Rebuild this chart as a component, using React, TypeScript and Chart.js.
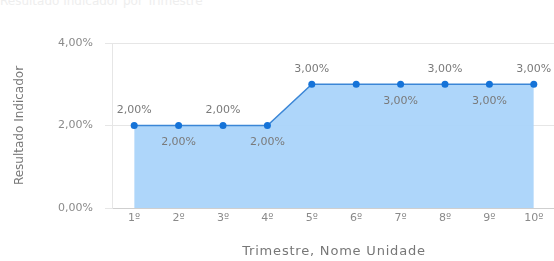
import React, { useEffect, useRef } from 'react';
import { Chart, registerables } from 'chart.js';

Chart.register(...registerables);

const categories = ['1º', '2º', '3º', '4º', '5º', '6º', '7º', '8º', '9º', '10º'];
const values = [2, 2, 2, 2, 3, 3, 3, 3, 3, 3];
const labelPlacement = ['above', 'below', 'above', 'below', 'above', 'none', 'below', 'above', 'below', 'above'];
const yMin = 0;
const yMax = 4;
const yStep = 2;
const xTitle = 'Trimestre, Nome Unidade';
const yTitle = 'Resultado Indicador';
const chartTitle = 'Resultado Indicador por Trimestre';

const fmt = (v: number) => v.toFixed(2).replace('.', ',') + '%';
const FONT = 'DejaVu Sans';

const labelPlugin = {
  id: 'pointLabels',
  afterDatasetsDraw(chart: any) {
    const ctx = chart.ctx;
    const meta = chart.getDatasetMeta(0);
    ctx.save();
    ctx.font = `11px "${FONT}"`;
    ctx.fillStyle = '#7a7a7a';
    ctx.textAlign = 'center';
    ctx.textBaseline = 'middle';
    meta.data.forEach((pt: any, i: number) => {
      const place = labelPlacement[i];
      if (place === 'none') return;
      const dy = place === 'above' ? -15 : 17;
      ctx.fillText(fmt(values[i]), pt.x, pt.y + dy);
    });
    ctx.restore();
  },
};

const xTitlePlugin = {
  id: 'xTitleSpaced',
  afterDraw(chart: any) {
    const ctx = chart.ctx;
    const xs = chart.scales.x;
    ctx.save();
    ctx.font = `13px "${FONT}"`;
    try {
      (ctx as any).letterSpacing = '0.8px';
    } catch (e) {}
    ctx.fillStyle = '#777';
    ctx.textAlign = 'center';
    ctx.textBaseline = 'middle';
    ctx.fillText(xTitle, (xs.left + xs.right) / 2, xs.bottom - 9);
    ctx.restore();
  },
};

export default function App() {
  const ref = useRef<HTMLCanvasElement>(null);
  useEffect(() => {
    const chart = new Chart(ref.current as HTMLCanvasElement, {
      type: 'line',
      data: {
        labels: categories,
        datasets: [
          {
            data: values,
            fill: 'origin',
            backgroundColor: 'rgba(170, 212, 250, 0.95)',
            borderColor: '#3b86d6',
            borderWidth: 1.5,
            pointRadius: 3.5,
            pointBackgroundColor: '#1573d8',
            pointBorderColor: '#1573d8',
            pointBorderWidth: 0,
            tension: 0,
          },
        ],
      },
      options: {
        responsive: false,
        animation: false,
        layout: { padding: { top: 43, right: 5, bottom: 0, left: 0 } },
        plugins: { legend: { display: false }, tooltip: { enabled: false } },
        scales: {
          x: {
            offset: true,
            grid: { display: false, drawTicks: false },
            border: { display: true, color: '#cfcfcf' },
            ticks: { padding: 4, color: '#8a8a8a', font: { family: FONT, size: 11 } },
            title: { display: false, text: xTitle },
            afterFit: (s: any) => {
              s.height = 53;
            },
          },
          y: {
            min: yMin,
            max: yMax,
            ticks: {
              stepSize: yStep,
              padding: 12,
              color: '#8a8a8a',
              font: { family: FONT, size: 11 },
              callback: (v: any) => fmt(Number(v)),
            },
            grid: { color: '#e6e6e6', tickLength: 7 },
            border: { display: true, color: '#e6e6e6' },
            title: {
              display: true,
              text: yTitle,
              color: '#777',
              font: { family: FONT, size: 12 },
              padding: { top: 13, bottom: 0 },
            },
            afterFit: (s: any) => {
              s.width = 112;
            },
          },
        },
      },
      plugins: [labelPlugin, xTitlePlugin],
    });
    return () => chart.destroy();
  }, []);

  return (
    <div style={{ position: 'fixed', left: 0, top: 0, width: 554, height: 261, overflow: 'hidden', background: '#fff' }}>
      <div
        style={{
          position: 'absolute',
          left: 0,
          top: -6,
          fontFamily: FONT,
          fontSize: 12,
          color: '#eeeeee',
          whiteSpace: 'nowrap',
        }}
      >
        {chartTitle}
      </div>
      <canvas ref={ref} width={561} height={261} style={{ position: 'absolute', left: 0, top: 0 }} />
    </div>
  );
}
